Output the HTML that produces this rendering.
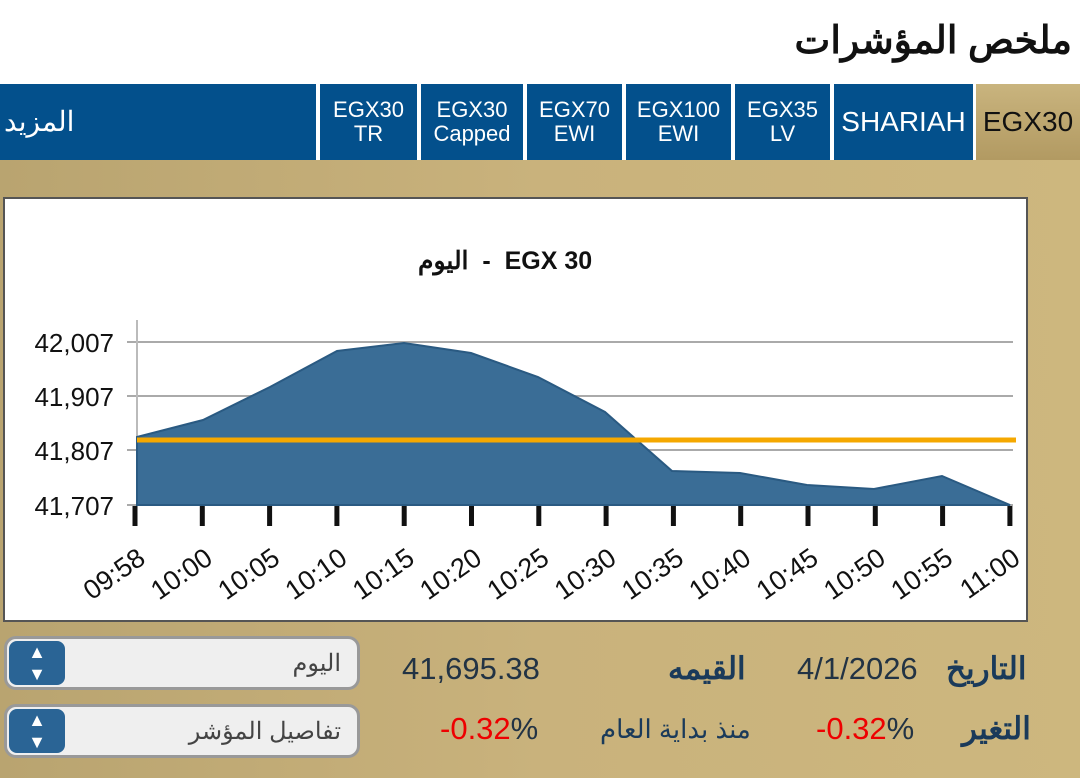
<!DOCTYPE html>
<html><head><meta charset="utf-8"><style>
body{margin:0;width:1080px;height:778px;background:#fff;overflow:hidden;position:relative;font-family:"Liberation Sans","Noto Sans CJK SC",sans-serif}
.t{position:absolute;top:84px;height:76px;background:#03508c;color:#fff;display:flex;align-items:center;justify-content:center;text-align:center;font-size:22px;line-height:24px}
.gold{position:absolute;left:0;top:160px;width:1080px;height:618px;background:linear-gradient(90deg,#b9a470,#c9b27c 50%,#cdb77e)}
.sel{position:absolute;left:4px;width:356px;height:54px;border-radius:12px;background:#efefef;border:3px solid #999;box-sizing:border-box}
.sel .b{position:absolute;left:2px;top:2px;width:56px;height:44px;background:#2a6495;border-radius:8px;color:#fff;font-size:18px;text-align:center;line-height:22px}
.sel .l{position:absolute;right:16px;top:10px;font-size:24px;color:#444}
.v{position:absolute;font-size:31px;color:#234;white-space:nowrap}
</style></head><body>
<div style="position:absolute;right:8px;top:18px;font-size:38px;color:#111;font-weight:bold">ملخص المؤشرات</div>
<div style="position:absolute;left:0;top:84px;width:1080px;height:76px;background:#fff"></div>
<div class="t" style="left:0;width:316px;justify-content:flex-start;padding-left:4px;box-sizing:border-box;font-size:28px">المزيد</div>
<div class="t" style="left:320px;width:97px">EGX30<br>TR</div>
<div class="t" style="left:421px;width:102px">EGX30<br>Capped</div>
<div class="t" style="left:527px;width:95px">EGX70<br>EWI</div>
<div class="t" style="left:626px;width:105px">EGX100<br>EWI</div>
<div class="t" style="left:735px;width:95px">EGX35<br>LV</div>
<div class="t" style="left:834px;width:139px;font-size:28px">SHARIAH</div>
<div class="t" style="left:976px;width:104px;background:linear-gradient(#c9b47e,#b29a62);color:#111;font-size:28px">EGX30</div>
<div class="gold"></div>
<div style="position:absolute;left:3px;top:197px;width:1025px;height:425px;background:#fff;border:2px solid #555;box-sizing:border-box"></div>
<div style="position:absolute;left:418px;top:246px;font-size:25px;font-weight:bold;color:#111;direction:ltr;white-space:nowrap"><span>اليوم</span>&nbsp; - &nbsp;<span>EGX 30</span></div>
<svg width="1080" height="778" style="position:absolute;left:0;top:0">
<g stroke="#aaa" stroke-width="2"><line x1="127" y1="342" x2="1013" y2="342"/><line x1="127" y1="396" x2="1013" y2="396"/><line x1="127" y1="450" x2="1013" y2="450"/><line x1="127" y1="505" x2="1013" y2="505"/></g>
<line x1="137" y1="320" x2="137" y2="505" stroke="#bbb" stroke-width="2"/>
<polygon fill="#3a6d96" stroke="#2a5a82" stroke-width="2" points="137,437 203,420 270,387 337,351 404,343 471,353 538,377 605,412 672,471 740,473 807,485 874,489 942,476 1010,505 1010,505 137,505"/>
<line x1="137" y1="440" x2="1016" y2="440" stroke="#f5a800" stroke-width="5"/>
<g font-size="26" fill="#111" text-anchor="end"><text x="114" y="352">42,007</text><text x="114" y="406">41,907</text><text x="114" y="460">41,807</text><text x="114" y="515">41,707</text></g>
<g stroke="#111" stroke-width="5" id="tk"></g>
<g font-size="27" fill="#111" text-anchor="end" id="lb"></g>
<script>
var L=["09:58","10:00","10:05","10:10","10:15","10:20","10:25","10:30","10:35","10:40","10:45","10:50","10:55","11:00"],tk=document.getElementById('tk'),lb=document.getElementById('lb'),ns="http://www.w3.org/2000/svg";
for(var i=0;i<14;i++){var x=135+67.3*i;var l=document.createElementNS(ns,'line');l.setAttribute('x1',x);l.setAttribute('x2',x);l.setAttribute('y1',506);l.setAttribute('y2',526);tk.appendChild(l);
var t=document.createElementNS(ns,'text');t.setAttribute('transform','translate('+(x+12)+',562) rotate(-35)');t.textContent=L[i];lb.appendChild(t);}
</script>
</svg>
<div class="sel" style="top:636px"><div class="b">▲<br>▼</div><div class="l">اليوم</div></div>
<div class="sel" style="top:704px"><div class="b">▲<br>▼</div><div class="l">تفاصيل المؤشر</div></div>
<div class="v" style="left:402px;top:651px">41,695.38</div>
<div class="v" style="left:440px;top:711px;color:#e00">-0.32<span style="color:#234">%</span></div>
<div class="v" style="left:668px;top:651px;font-weight:bold;color:#1a3a5a">القيمه</div>
<div class="v" style="left:600px;top:714px;font-size:26px;color:#1a3a5a">منذ بداية العام</div>
<div class="v" style="left:797px;top:651px">4/1/2026</div>
<div class="v" style="left:816px;top:711px;color:#e00">-0.32<span style="color:#234">%</span></div>
<div class="v" style="left:946px;top:651px;font-weight:bold;color:#1a3a5a">التاريخ</div>
<div class="v" style="left:962px;top:711px;font-weight:bold;color:#1a3a5a">التغير</div>
</body></html>
